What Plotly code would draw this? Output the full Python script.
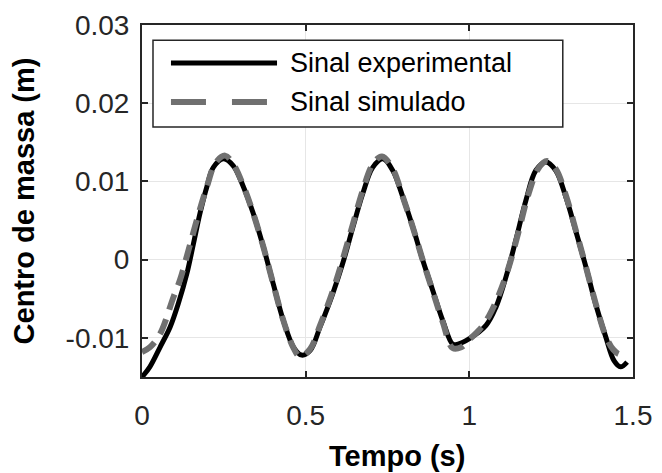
import plotly.graph_objects as go

# tempo (s) e centro de massa (m)
t_exp = [0, 0.024, 0.055, 0.086, 0.111, 0.137, 0.157, 0.177, 0.198, 0.218,
         0.249, 0.279, 0.310, 0.340, 0.371, 0.401, 0.432, 0.463, 0.488, 0.514,
         0.544, 0.583, 0.613, 0.644, 0.674, 0.705, 0.736, 0.766, 0.797, 0.827,
         0.858, 0.888, 0.919, 0.949, 0.965, 1.0, 1.051, 1.081, 1.112, 1.142,
         1.173, 1.203, 1.234, 1.264, 1.295, 1.325, 1.356, 1.386, 1.417, 1.442,
         1.462, 1.482]
y_exp = [-0.0150, -0.0137, -0.0112, -0.0086, -0.0056, -0.0018, 0.0020, 0.0059, 0.0093, 0.0118,
         0.0129, 0.0120, 0.0093, 0.0059, 0.0016, -0.0031, -0.0078, -0.0112, -0.0122, -0.0116,
         -0.0086, -0.0043, -0.0005, 0.0041, 0.0084, 0.0118, 0.0129, 0.0114, 0.0080, 0.0042,
         -0.0001, -0.0039, -0.0078, -0.0108, -0.0108, -0.0101, -0.0084, -0.0061, -0.0022, 0.0025,
         0.0076, 0.0114, 0.0125, 0.0114, 0.0080, 0.0037, -0.0009, -0.0057, -0.0099, -0.0129,
         -0.0137, -0.0131]

t_sim = [0, 0.024, 0.055, 0.096, 0.116, 0.142, 0.167, 0.198, 0.225, 0.254,
         0.279, 0.310, 0.340, 0.371, 0.401, 0.432, 0.463, 0.483, 0.514, 0.544,
         0.583, 0.613, 0.644, 0.674, 0.705, 0.733, 0.766, 0.797, 0.827, 0.858,
         0.888, 0.919, 0.949, 0.975, 1.0, 1.03, 1.06, 1.09, 1.12, 1.15,
         1.18, 1.21, 1.237, 1.264, 1.295, 1.325, 1.356, 1.386, 1.417, 1.44,
         1.46, 1.48]
y_sim = [-0.0118, -0.0112, -0.0095, -0.0048, -0.0026, 0.0012, 0.0050, 0.0093, 0.0124, 0.0133,
         0.0122, 0.0094, 0.0059, 0.0016, -0.0031, -0.0078, -0.0113, -0.0124, -0.0114, -0.0084,
         -0.0040, 0.0000, 0.0045, 0.0088, 0.0122, 0.0132, 0.0116, 0.0080, 0.0042, -0.0001,
         -0.0040, -0.0080, -0.0113, -0.0112, -0.0102, -0.0090, -0.0072, -0.0045, -0.0010, 0.0035,
         0.0083, 0.0116, 0.0126, 0.0116, 0.0082, 0.0038, -0.0009, -0.0056, -0.0098, -0.0115,
         -0.0121, -0.0118]

x_ticks = [0, 0.5, 1, 1.5]
x_labels = ["0", "0.5", "1", "1.5"]
y_ticks = [-0.01, 0, 0.01, 0.02, 0.03]
y_labels = ["-0.01", "0", "0.01", "0.02", "0.03"]
names = ["Sinal experimental", "Sinal simulado"]

FONT = "Liberation Sans, Arial, sans-serif"
AXC = "#262626"
SIMC = "#707070"

fig = go.Figure()
fig.add_trace(go.Scatter(x=t_exp, y=y_exp, mode="lines", name=names[0],
                         line=dict(color="black", width=5, shape="spline")))
fig.add_trace(go.Scatter(x=t_sim, y=y_sim, mode="lines", name=names[1],
                         line=dict(color=SIMC, width=6, dash="16px,10px", shape="spline")))

# legenda desenhada a mao (linhas longas como no original)
fig.add_shape(type="rect", xref="paper", yref="paper", x0=0.0224, x1=0.857, y0=0.710, y1=0.957,
              line=dict(color=AXC, width=1.5), fillcolor="white")
fig.add_shape(type="line", xref="paper", yref="paper", x0=0.059, x1=0.275, y0=0.892, y1=0.892,
              line=dict(color="black", width=5))
fig.add_shape(type="line", xref="paper", yref="paper", x0=0.059, x1=0.275, y0=0.781, y1=0.781,
              line=dict(color=SIMC, width=6, dash="35px,26px"))
for yy, txt in zip([0.892, 0.781], names):
    fig.add_annotation(xref="paper", yref="paper", x=0.297, y=yy, text=txt, showarrow=False,
                       xanchor="left", yanchor="middle", font=dict(size=27, color="black", family=FONT))

# titulo do eixo x como anotacao (fica perto da borda inferior)
fig.add_annotation(xref="paper", yref="paper", x=0.519, y=-0.224, text="<b>Tempo (s)</b>",
                   showarrow=False, xanchor="center", yanchor="middle",
                   font=dict(size=29, color="black", family=FONT))

axis_common = dict(showline=True, linecolor=AXC, linewidth=2, mirror="ticks",
                   ticks="inside", ticklen=6, tickcolor=AXC, tickwidth=1.5,
                   showgrid=True, gridcolor="#e6e6e6", gridwidth=1, zeroline=False,
                   automargin=False,
                   tickfont=dict(size=28, color=AXC, family=FONT))

fig.update_layout(
    width=662, height=473,
    margin=dict(l=142, r=29, t=25, b=96),
    paper_bgcolor="white", plot_bgcolor="white",
    showlegend=False,
    font=dict(family=FONT),
    xaxis=dict(range=[0, 1.5], tickvals=x_ticks, ticktext=x_labels, ticklabelstandoff=12,
               **axis_common),
    yaxis=dict(range=[-0.015, 0.03], tickvals=y_ticks, ticktext=y_labels, ticklabelstandoff=5,
               title=dict(text="<b>Centro de massa (m)</b>", font=dict(size=29, color="black"), standoff=22),
               **axis_common),
)

# remove the default 8px page margin so the figure fills the window exactly
fig.write_html("out.html", config={"displayModeBar": False},
               post_script="document.body.style.margin='0';document.body.style.overflow='hidden';")
